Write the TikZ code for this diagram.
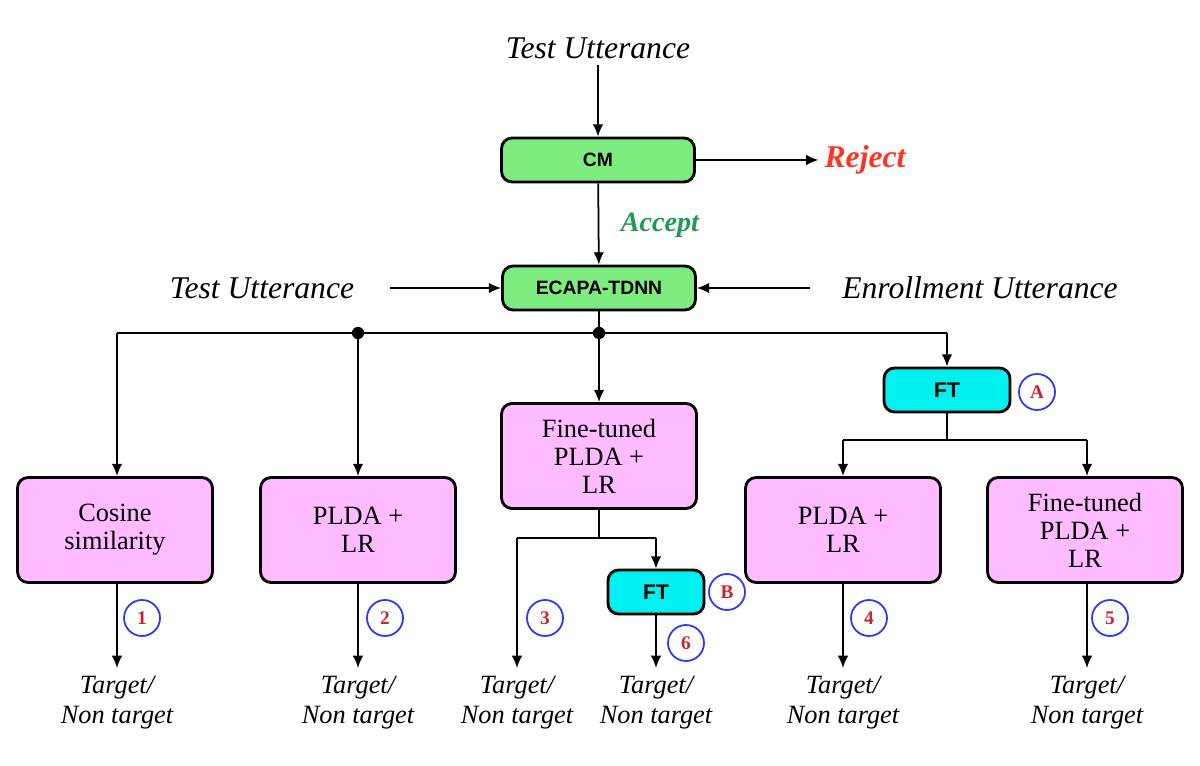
\documentclass[tikz,border=0pt]{standalone}
\usepackage{fontspec}
\setmainfont{Liberation Serif}
\setsansfont{Liberation Sans}
\usetikzlibrary{arrows.meta}
\definecolor{gbox}{HTML}{7EEB7E}
\definecolor{pbox}{HTML}{FFBBFF}
\definecolor{cbox}{HTML}{00F0F0}
\definecolor{rej}{HTML}{FF3322}
\definecolor{acc}{HTML}{229955}
\definecolor{numred}{HTML}{CC2233}
\begin{document}
\begin{tikzpicture}[x=0.02cm,y=-0.02cm,
  arr/.style={-{Latex[length=7pt,width=6pt]},line width=1pt},
  ln/.style={line width=1pt},
  gb/.style={draw,line width=1.6pt,rounded corners=6pt,fill=gbox,minimum width=3.86cm,minimum height=0.88cm,font=\sffamily\bfseries\fontsize{11}{12}\selectfont},
  cb/.style={draw,line width=1.6pt,rounded corners=6pt,fill=cbox,minimum height=0.88cm,font=\sffamily\bfseries\fontsize{12}{13}\selectfont},
  pb/.style={draw,line width=1.6pt,rounded corners=6pt,fill=pbox,minimum width=3.9cm,minimum height=2.1cm,align=center,font=\fontsize{15}{16}\selectfont},
  it/.style={font=\itshape\fontsize{18}{20}\selectfont},
  tg/.style={align=center,font=\itshape\fontsize{15}{17}\selectfont},
  num/.style={draw=blue!80,circle,line width=1pt,minimum size=0.72cm,inner sep=0pt,text=numred,font=\bfseries\fontsize{11}{12}\selectfont}]
\useasboundingbox (0,0) rectangle (1200,766);
\node[it] (tu) at (598,48) {Test Utterance};
\node[gb] (cm) at (598,160) {CM};
\node[font=\bfseries\itshape\fontsize{18}{20}\selectfont,text=rej] (rej) at (865,160) {Reject};
\node[gb] (ec) at (599,288) {ECAPA-TDNN};
\node[font=\bfseries\itshape\fontsize{16}{18}\selectfont,text=acc] (acc) at (660,225) {Accept};
\node[it] (tu2) at (262,288) {Test Utterance};
\node[it] (en) at (980,288) {Enrollment Utterance};
\draw[arr] (tu) -- (cm);
\draw[arr] (cm) -- (rej);
\draw[arr] (cm) -- (ec);
\draw[arr] (390,288) coordinate (t2e) -- (ec);
\draw[arr] (810,288) coordinate (ene) -- (ec);
\coordinate (bl) at (117,333); \coordinate (br) at (947,333);
\coordinate (d1) at (358,333); \coordinate (d2) at (599,333);
\draw[ln] (ec.south) -- (d2);
\draw[ln] (bl) -- (br);
\fill (d1) circle (3.5pt); \fill (d2) circle (3.5pt);
\node[pb] (b1) at (115,530) {Cosine\\similarity};
\node[pb] (b2) at (358,530) {PLDA +\\LR};
\node[pb] (b3) at (599,456) {Fine-tuned\\PLDA +\\LR};
\node[pb] (b4) at (843,530) {PLDA +\\LR};
\node[pb] (b5) at (1085,530) {Fine-tuned\\PLDA +\\LR};
\node[cb,minimum width=2.52cm] (fa) at (947,390) {FT};
\node[cb,minimum width=1.92cm] (fb) at (656,592) {FT};
\node[num] at (1037,392) {A};
\node[num] at (727,592) {B};
\draw[arr] (bl) -- (b1.north -| bl);
\draw[arr] (d1) -- (b2);
\draw[arr] (d2) -- (b3);
\draw[arr] (br) -- (fa);
\coordinate (fal) at (843,440); \coordinate (far) at (1087,440);
\draw[ln] (fa.south) -- (947,440);
\draw[ln] (fal) -- (far);
\draw[arr] (fal) -- (b4.north -| fal);
\draw[arr] (far) -- (b5.north -| far);
\coordinate (bll) at (517,538); \coordinate (blr) at (656,538);
\draw[ln] (b3.south) -- (599,538);
\draw[ln] (bll) -- (blr);
\draw[arr] (blr) -- (fb);
\foreach \i/\x/\src in {1/117/b1,2/358/b2,4/843/b4,5/1087/b5}{
  \node[tg] (t\i) at (\x,703) {Target/\\Non target};
  \draw[arr] (\src.south -| t\i) -- (\x,668);
}
\node[tg] (t3) at (517,703) {Target/\\Non target};
\draw[arr] (bll) -- (517,668);
\node[tg] (t6) at (656,703) {Target/\\Non target};
\draw[arr] (fb) -- (656,668);
\node[num] at (142,618) {1};
\node[num] at (385,618) {2};
\node[num] at (545,618) {3};
\node[num] at (686,643) {6};
\node[num] at (869,618) {4};
\node[num] at (1110,618) {5};
\end{tikzpicture}
\end{document}
